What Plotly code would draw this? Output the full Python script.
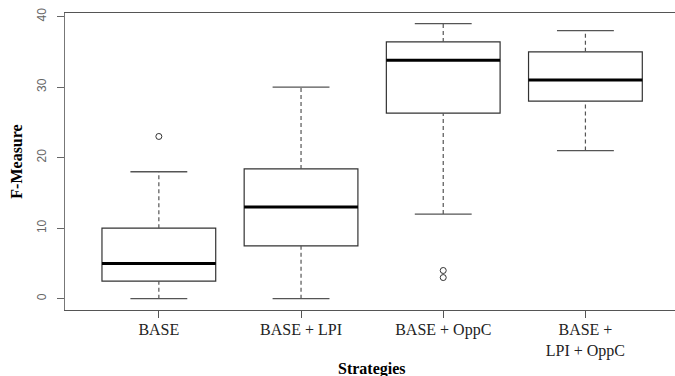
import plotly.graph_objects as go

categories = ["BASE", "BASE + LPI", "BASE + OppC", "BASE +<br>LPI + OppC"]
positions = [1, 2, 3, 4]
lower_whisker = [0, 0, 12, 21]
q1 = [2.5, 7.5, 26.3, 28]
median = [5, 13, 33.8, 31]
q3 = [10, 18.4, 36.4, 35]
upper_whisker = [18, 30, 39, 38]
outlier_x = [1, 3, 3]
outlier_y = [23, 4, 3]

y_ticks = [0, 10, 20, 30, 40]

BOX_W = 0.8
CAP_W = 0.4

fig = go.Figure()

fig.add_trace(go.Box(
    x=positions, q1=q1, median=median, q3=q3,
    lowerfence=q1, upperfence=q3,
    width=BOX_W, whiskerwidth=0,
    fillcolor="white", line=dict(color="#333333", width=1.2),
    boxpoints=False, showlegend=False, hoverinfo="skip",
))

# dashed whiskers
wx, wy = [], []
for p, lw, a, b, uw in zip(positions, lower_whisker, q1, q3, upper_whisker):
    wx += [p, p, None, p, p, None]
    wy += [lw, a, None, b, uw, None]
fig.add_trace(go.Scatter(x=wx, y=wy, mode="lines",
                         line=dict(color="#555555", width=1.2, dash="4px,3px"),
                         showlegend=False, hoverinfo="skip"))

# caps
cx, cy = [], []
for p, lw, uw in zip(positions, lower_whisker, upper_whisker):
    cx += [p - CAP_W / 2, p + CAP_W / 2, None, p - CAP_W / 2, p + CAP_W / 2, None]
    cy += [lw, lw, None, uw, uw, None]
fig.add_trace(go.Scatter(x=cx, y=cy, mode="lines",
                         line=dict(color="#555555", width=1.3),
                         showlegend=False, hoverinfo="skip"))

# thick medians
mx, my = [], []
for p, m in zip(positions, median):
    mx += [p - BOX_W / 2, p + BOX_W / 2, None]
    my += [m, m, None]
fig.add_trace(go.Scatter(x=mx, y=my, mode="lines",
                         line=dict(color="black", width=3),
                         showlegend=False, hoverinfo="skip"))

# outliers
fig.add_trace(go.Scatter(x=outlier_x, y=outlier_y, mode="markers",
                         marker=dict(symbol="circle-open", size=6,
                                     color="#333333", line=dict(width=1)),
                         showlegend=False, hoverinfo="skip"))

fig.update_layout(
    width=675, height=376,
    margin=dict(l=65, r=0, t=13, b=66),
    paper_bgcolor="white", plot_bgcolor="white",
    xaxis=dict(
        range=[0.34, 4.63], tickmode="array", tickvals=positions, ticktext=categories,
        showline=True, linecolor="#555555", linewidth=1, mirror=True,
        ticks="outside", ticklen=7, tickcolor="#555555",
        showgrid=False, zeroline=False, automargin=False, ticklabelstandoff=-2,
        tickfont=dict(family="Liberation Serif", size=16, color="#222222"),
    ),
    yaxis=dict(
        range=[-1.6, 40.5], tickmode="array", tickvals=y_ticks,
        showline=True, linecolor="#777777", linewidth=1, mirror=True,
        ticks="outside", ticklen=7, tickcolor="#666666",
        showgrid=False, zeroline=False, tickangle=-90, ticklabelstandoff=6,
        automargin=False,
        tickfont=dict(family="Liberation Sans", size=12, color="#666666"),
        title=dict(text="<b>F-Measure</b>", standoff=8,
                   font=dict(family="Liberation Serif", size=16, color="black")),
    ),
    annotations=[dict(
        text="<b>Strategies</b>", xref="x", yref="paper",
        x=2.5, y=-0.199, xanchor="center", yanchor="middle", showarrow=False,
        font=dict(family="Liberation Serif", size=16, color="black"),
    )],
)

fig.write_html("out.html")
